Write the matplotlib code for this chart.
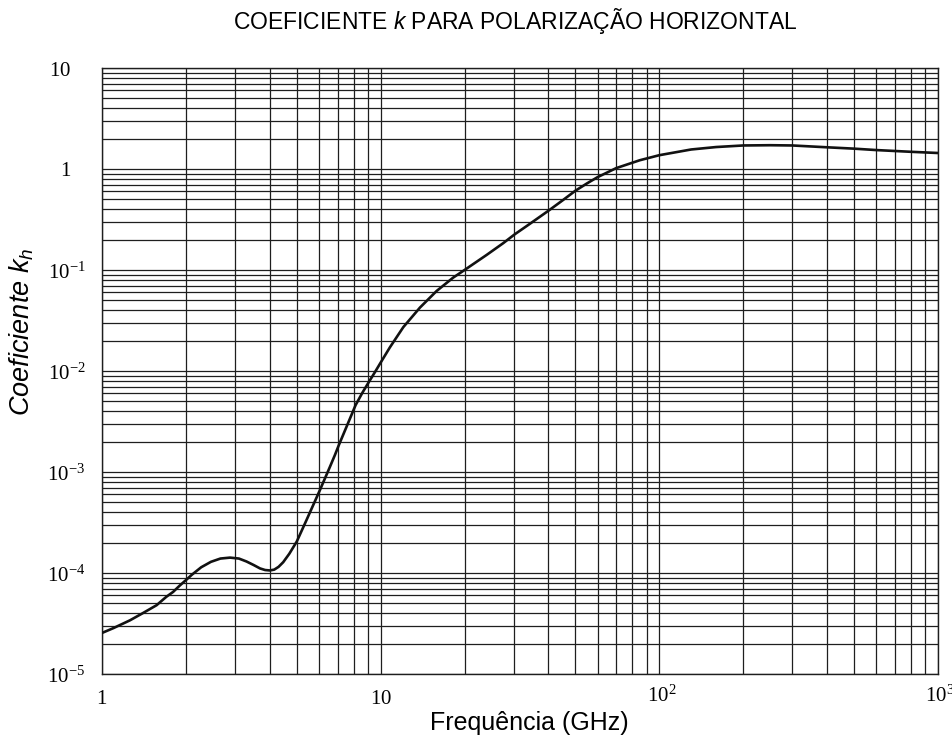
import numpy as np
import matplotlib
matplotlib.use("Agg")
import matplotlib.pyplot as plt
from matplotlib.ticker import LogLocator, FixedLocator, NullFormatter
from matplotlib.transforms import ScaledTranslation

# frequencia (GHz) e coeficiente k_h
freq = [1.0, 1.1, 1.26, 1.4, 1.57, 1.7, 1.8, 1.9, 2.0, 2.1, 2.27, 2.46, 2.66,
        2.88, 3.1, 3.3, 3.5, 3.69, 3.85, 4.0, 4.15, 4.3, 4.47, 4.7, 5.0, 5.42,
        6.05, 6.58, 6.85, 7.08, 7.6, 8.13, 8.6, 9.1, 9.55, 10.05, 10.8, 12.06,
        13.84, 15.88, 18.2, 20.0, 24.0, 27.5, 30.3, 33.9, 40.2, 45.0, 50.0,
        55.0, 60.0, 70.0, 85.0, 100.0, 130.0, 160.0, 200.0, 250.0, 300.0,
        400.0, 500.0, 600.0, 800.0, 1000.0]
kh = [2.55e-5, 2.85e-5, 3.4e-5, 4.0e-5, 4.8e-5, 5.8e-5, 6.5e-5, 7.5e-5,
      8.5e-5, 9.6e-5, 1.14e-4, 1.29e-4, 1.39e-4, 1.42e-4, 1.39e-4, 1.3e-4,
      1.2e-4, 1.11e-4, 1.07e-4, 1.06e-4, 1.08e-4, 1.15e-4, 1.28e-4, 1.55e-4,
      2.05e-4, 3.35e-4, 6.6e-4, 1.13e-3, 1.47e-3, 1.85e-3, 2.95e-3, 4.6e-3,
      6.1e-3, 7.9e-3, 9.8e-3, 1.24e-2, 1.72e-2, 2.72e-2, 4.25e-2, 6.2e-2,
      8.4e-2, 0.100, 0.141, 0.184, 0.226, 0.28, 0.39, 0.49, 0.61, 0.72,
      0.83, 1.02, 1.22, 1.37, 1.56, 1.65, 1.71, 1.72, 1.71, 1.64, 1.59, 1.54,
      1.48, 1.44]

xticks = [1, 10, 100, 1000]
xlabels = ['$1$', '$10$', '$10^{2}$', '$10^{3}$']
yticks = [1e-5, 1e-4, 1e-3, 1e-2, 1e-1, 1, 10]
ylabels = ['$10^{-5}$', '$10^{-4}$', '$10^{-3}$', '$10^{-2}$', '$10^{-1}$',
           '$1$', '$10$']

plt.rcParams['font.family'] = ['Liberation Sans', 'DejaVu Sans']
plt.rcParams['mathtext.fontset'] = 'custom'
plt.rcParams['mathtext.rm'] = 'Liberation Serif'
plt.rcParams['mathtext.it'] = 'Liberation Sans:italic'
plt.rcParams['mathtext.bf'] = 'Liberation Serif:bold'

fig = plt.figure(figsize=(9.52, 7.4), dpi=100)
ax = fig.add_axes([102/952, 66/740, 836/952, 606/740])

ax.set_xscale('log')
ax.set_yscale('log')
ax.set_xlim(1, 1000)
ax.set_ylim(1e-5, 10)

ax.plot(freq, kh, color='#111111', lw=1.9, zorder=3, solid_capstyle='round')

ax.xaxis.set_major_locator(FixedLocator(xticks))
ax.yaxis.set_major_locator(FixedLocator(yticks))
ax.xaxis.set_minor_locator(LogLocator(base=10, subs=np.arange(2, 10)))
ax.yaxis.set_minor_locator(LogLocator(base=10, subs=np.arange(2, 10)))
ax.xaxis.set_minor_formatter(NullFormatter())
ax.yaxis.set_minor_formatter(NullFormatter())
ax.set_xticklabels(xlabels, fontsize=15)
ax.set_yticklabels(ylabels, fontsize=15)
ax.tick_params(which='both', length=0)
ax.tick_params(axis='x', pad=11)
ax.tick_params(axis='y', pad=12)

# base do numero centrada no tick, expoente para fora
for lab in ax.get_xticklabels():
    if '^' in lab.get_text():
        lab.set_transform(lab.get_transform() +
                          ScaledTranslation(0.02, 0.05, fig.dpi_scale_trans))
for lab in ax.get_yticklabels():
    if '^' not in lab.get_text():
        lab.set_transform(lab.get_transform() +
                          ScaledTranslation(-0.14, 0.0, fig.dpi_scale_trans))

ax.grid(which='both', color='#1e1e1e', lw=0.9)
for s in ax.spines.values():
    s.set_color('#1e1e1e')
    s.set_linewidth(1.0)

fig.text(515/952, 1 - 21/740, 'COEFICIENTE $k$ PARA POLARIZAÇÃO HORIZONTAL',
         ha='center', va='center', fontsize=16.5)
ax.set_xlabel('Frequência (GHz)', fontsize=18, va='center', ha='center')
ax.xaxis.set_label_coords((529 - 102)/836, (674 - 723)/606)
ax.set_ylabel('Coeficiente $k_h$', fontsize=19.5, style='italic',
              va='center', ha='center')
ax.yaxis.set_label_coords((22 - 102)/836, (674 - 332)/606)

fig.savefig('out.png', dpi=100)
